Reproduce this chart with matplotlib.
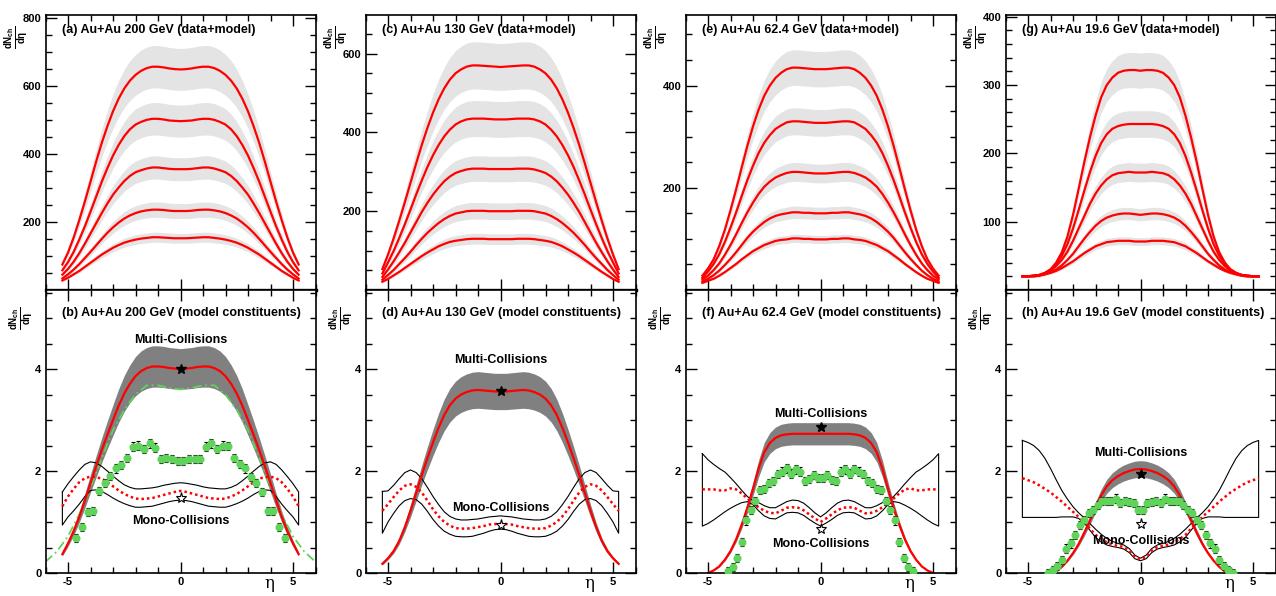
import numpy as np
import matplotlib
matplotlib.use('Agg')
import matplotlib.pyplot as plt
from matplotlib.ticker import MultipleLocator, FuncFormatter

plt.rcParams['font.family'] = ['Liberation Sans', 'DejaVu Sans']
plt.rcParams['font.weight'] = 'bold'
plt.rcParams['mathtext.fontset'] = 'custom'
plt.rcParams['mathtext.rm'] = 'Liberation Sans:bold'
plt.rcParams['mathtext.it'] = 'Liberation Sans:bold'
plt.rcParams['mathtext.bf'] = 'Liberation Sans:bold'

# eta grid for the model curves
eta = [-5.25, -5.0, -4.75, -4.5, -4.25, -4.0, -3.75, -3.5, -3.25, -3.0, -2.75, -2.5, -2.25,
       -2.0, -1.75, -1.5, -1.25, -1.0, -0.75, -0.5, -0.25, 0.0, 0.25, 0.5, 0.75, 1.0, 1.25,
       1.5, 1.75, 2.0, 2.25, 2.5, 2.75, 3.0, 3.25, 3.5, 3.75, 4.0, 4.25, 4.5, 4.75, 5.0, 5.25]

# ---- top row: dN/deta for five centralities (data+model) ----
top200 = [
    [75, 110, 154, 205, 260, 318, 377, 432, 481, 525, 562, 592, 615, 632, 644, 652, 656, 656, 654, 651, 649, 648, 649, 651, 654, 656, 656, 652, 644, 632, 615, 592, 562, 525, 481, 432, 377, 318, 260, 205, 154, 110, 75],
    [58, 82, 112, 148, 187, 230, 274, 318, 358, 395, 426, 452, 472, 486, 494, 500, 503, 503, 501, 498, 497, 496, 497, 498, 501, 503, 503, 500, 494, 486, 472, 452, 426, 395, 358, 318, 274, 230, 187, 148, 112, 82, 58],
    [45, 62, 83, 108, 136, 166, 196, 226, 254, 280, 301, 320, 335, 346, 352, 357, 360, 360, 358, 356, 355, 355, 355, 356, 358, 360, 360, 357, 352, 346, 335, 320, 301, 280, 254, 226, 196, 166, 136, 108, 83, 62, 45],
    [34, 46, 60, 76, 94, 112, 131, 150, 168, 184, 198, 210, 219, 226, 231, 234, 236, 236, 235, 233, 232, 232, 232, 233, 235, 236, 236, 234, 231, 226, 219, 210, 198, 184, 168, 150, 131, 112, 94, 76, 60, 46, 34],
    [28, 36, 46, 56, 68, 80, 92, 104, 114, 124, 132, 139, 144, 148, 151, 153, 155, 155, 154, 153, 152, 152, 152, 153, 154, 155, 155, 153, 151, 148, 144, 139, 132, 124, 114, 104, 92, 80, 68, 56, 46, 36, 28],
]
top130 = [
    [53, 90, 131, 176, 223, 272, 321, 368, 411, 450, 484, 512, 534, 550, 560, 567, 570, 570, 569, 568, 567, 566, 567, 568, 569, 570, 570, 567, 560, 550, 534, 512, 484, 450, 411, 368, 321, 272, 223, 176, 131, 90, 53],
    [42, 70, 99, 132, 167, 204, 242, 278, 312, 342, 368, 390, 407, 420, 428, 433, 435, 435, 435, 434, 433, 433, 433, 434, 435, 435, 435, 433, 428, 420, 407, 390, 368, 342, 312, 278, 242, 204, 167, 132, 99, 70, 42],
    [33, 52, 73, 96, 120, 146, 172, 198, 221, 242, 260, 276, 288, 297, 302, 306, 308, 308, 308, 307, 307, 307, 307, 307, 308, 308, 308, 306, 302, 297, 288, 276, 260, 242, 221, 198, 172, 146, 120, 96, 73, 52, 33],
    [26, 38, 51, 66, 81, 97, 114, 130, 145, 158, 170, 180, 188, 194, 197, 200, 201, 201, 201, 200, 200, 200, 200, 200, 201, 201, 201, 200, 197, 194, 188, 180, 170, 158, 145, 130, 114, 97, 81, 66, 51, 38, 26],
    [21, 28, 37, 46, 56, 66, 76, 86, 95, 103, 111, 117, 122, 125, 127, 129, 130, 130, 130, 129, 129, 129, 129, 129, 130, 130, 130, 129, 127, 125, 122, 117, 111, 103, 95, 86, 76, 66, 56, 46, 37, 28, 21],
]
top62 = [
    [28, 42, 60, 86, 118, 156, 197, 240, 282, 320, 353, 380, 400, 415, 425, 432, 435, 435, 434, 433, 432, 432, 432, 433, 434, 435, 435, 432, 425, 415, 400, 380, 353, 320, 282, 240, 197, 156, 118, 86, 60, 42, 28],
    [24, 36, 51, 70, 94, 122, 152, 184, 215, 243, 268, 288, 303, 315, 322, 328, 330, 330, 329, 328, 327, 327, 327, 328, 329, 330, 330, 328, 322, 315, 303, 288, 268, 243, 215, 184, 152, 122, 94, 70, 51, 36, 24],
    [21, 28, 39, 52, 69, 88, 109, 131, 152, 171, 188, 202, 212, 220, 225, 229, 231, 231, 230, 229, 228, 228, 228, 229, 230, 231, 231, 229, 225, 220, 212, 202, 188, 171, 152, 131, 109, 88, 69, 52, 39, 28, 21],
    [17, 22, 29, 38, 49, 61, 74, 88, 102, 114, 124, 133, 140, 145, 148, 150, 152, 152, 151, 151, 150, 150, 150, 151, 151, 152, 152, 150, 148, 145, 140, 133, 124, 114, 102, 88, 74, 61, 49, 38, 29, 22, 17],
    [14, 18, 22, 28, 35, 43, 51, 60, 68, 76, 82, 88, 92, 96, 98, 99, 101, 101, 100, 100, 99, 99, 99, 100, 100, 101, 101, 99, 98, 96, 92, 88, 82, 76, 68, 60, 51, 43, 35, 28, 22, 18, 14],
]
top19 = [
    [20, 20, 21, 22, 25, 30, 40, 55, 78, 110, 148, 187, 223, 255, 282, 300, 311, 318, 321, 322, 322, 321, 322, 322, 321, 318, 311, 300, 282, 255, 223, 187, 148, 110, 78, 55, 40, 30, 25, 22, 21, 20, 20],
    [20, 20, 21, 22, 25, 30, 38, 50, 67, 90, 117, 145, 172, 196, 215, 228, 236, 240, 242, 243, 243, 243, 243, 243, 242, 240, 236, 228, 215, 196, 172, 145, 117, 90, 67, 50, 38, 30, 25, 22, 21, 20, 20],
    [20, 20, 21, 22, 24, 28, 35, 44, 56, 72, 90, 108, 126, 141, 153, 162, 168, 171, 172, 173, 172, 172, 172, 173, 172, 171, 168, 162, 153, 141, 126, 108, 90, 72, 56, 44, 35, 28, 24, 22, 21, 20, 20],
    [20, 20, 20, 21, 23, 26, 30, 36, 44, 53, 64, 75, 85, 94, 101, 106, 109, 111, 112, 112, 111, 110, 111, 112, 112, 111, 109, 106, 101, 94, 85, 75, 64, 53, 44, 36, 30, 26, 23, 21, 20, 20, 20],
    [20, 20, 20, 21, 23, 25, 28, 32, 37, 42, 48, 54, 59, 64, 67, 70, 71, 72, 72, 72, 71, 71, 71, 72, 72, 72, 71, 70, 67, 64, 59, 54, 48, 42, 37, 32, 28, 25, 23, 21, 20, 20, 20],
]
top_relerr = [0.095, 0.105, 0.08, 0.08]

# ---- bottom row: model constituents ----
multi = [
    [0.37, 0.58, 0.82, 1.10, 1.42, 1.76, 2.09, 2.41, 2.71, 3.00, 3.28, 3.52, 3.71, 3.86, 3.96, 4.02, 4.05, 4.05, 4.04, 4.02, 4.01, 4.00, 4.01, 4.02, 4.04, 4.05, 4.05, 4.02, 3.96, 3.86, 3.71, 3.52, 3.28, 3.00, 2.71, 2.41, 2.09, 1.76, 1.42, 1.10, 0.82, 0.58, 0.37],
    [0.18, 0.29, 0.43, 0.63, 0.90, 1.22, 1.57, 1.92, 2.25, 2.56, 2.85, 3.10, 3.29, 3.42, 3.50, 3.55, 3.58, 3.59, 3.58, 3.57, 3.56, 3.56, 3.56, 3.57, 3.58, 3.59, 3.58, 3.55, 3.50, 3.42, 3.29, 3.10, 2.85, 2.56, 2.25, 1.92, 1.57, 1.22, 0.90, 0.63, 0.43, 0.29, 0.18],
    [-0.06, 0.00, 0.05, 0.13, 0.26, 0.43, 0.66, 0.95, 1.28, 1.65, 2.05, 2.37, 2.55, 2.65, 2.70, 2.72, 2.73, 2.73, 2.73, 2.73, 2.73, 2.73, 2.73, 2.73, 2.73, 2.73, 2.73, 2.72, 2.70, 2.65, 2.55, 2.37, 2.05, 1.65, 1.28, 0.95, 0.66, 0.43, 0.26, 0.13, 0.05, 0.00, -0.06],
    [-0.10, -0.10, -0.10, -0.10, -0.08, -0.03, 0.03, 0.12, 0.24, 0.39, 0.57, 0.79, 1.03, 1.29, 1.52, 1.70, 1.82, 1.90, 1.96, 2.00, 2.03, 2.04, 2.03, 2.00, 1.96, 1.90, 1.82, 1.70, 1.52, 1.29, 1.03, 0.79, 0.57, 0.39, 0.24, 0.12, 0.03, -0.03, -0.08, -0.10, -0.10, -0.10, -0.10],
]
multi_relerr = [0.10, 0.10, 0.08, 0.08]
mono = [
    [1.31, 1.50, 1.65, 1.78, 1.86, 1.89, 1.88, 1.85, 1.78, 1.70, 1.62, 1.55, 1.50, 1.46, 1.45, 1.46, 1.47, 1.50, 1.53, 1.56, 1.59, 1.61, 1.59, 1.56, 1.53, 1.50, 1.47, 1.46, 1.45, 1.46, 1.50, 1.55, 1.62, 1.70, 1.78, 1.85, 1.88, 1.89, 1.86, 1.78, 1.65, 1.50, 1.31],
    [1.22, 1.35, 1.49, 1.62, 1.71, 1.74, 1.69, 1.58, 1.42, 1.25, 1.11, 1.00, 0.93, 0.88, 0.87, 0.87, 0.88, 0.90, 0.92, 0.95, 0.96, 0.97, 0.96, 0.95, 0.92, 0.90, 0.88, 0.87, 0.87, 0.88, 0.93, 1.00, 1.11, 1.25, 1.42, 1.58, 1.69, 1.74, 1.71, 1.62, 1.49, 1.35, 1.22],
    [1.64, 1.64, 1.64, 1.62, 1.62, 1.66, 1.64, 1.56, 1.46, 1.36, 1.29, 1.22, 1.18, 1.17, 1.22, 1.28, 1.29, 1.28, 1.23, 1.15, 1.07, 1.00, 1.07, 1.15, 1.23, 1.28, 1.29, 1.28, 1.22, 1.17, 1.18, 1.22, 1.29, 1.36, 1.46, 1.56, 1.64, 1.66, 1.62, 1.62, 1.64, 1.64, 1.64],
    [1.86, 1.82, 1.78, 1.72, 1.65, 1.58, 1.49, 1.40, 1.30, 1.20, 1.10, 1.00, 0.87, 0.75, 0.67, 0.60, 0.56, 0.53, 0.51, 0.44, 0.31, 0.27, 0.31, 0.44, 0.51, 0.53, 0.56, 0.60, 0.67, 0.75, 0.87, 1.00, 1.10, 1.20, 1.30, 1.40, 1.49, 1.58, 1.65, 1.72, 1.78, 1.82, 1.86],
]
mono_hi = [
    [1.59, 1.75, 1.89, 2.02, 2.13, 2.18, 2.16, 2.09, 2.00, 1.90, 1.81, 1.73, 1.68, 1.65, 1.65, 1.66, 1.67, 1.69, 1.72, 1.74, 1.76, 1.77, 1.76, 1.74, 1.72, 1.69, 1.67, 1.66, 1.65, 1.65, 1.68, 1.73, 1.81, 1.90, 2.00, 2.09, 2.16, 2.18, 2.13, 2.02, 1.89, 1.75, 1.59],
    [1.60, 1.61, 1.72, 1.85, 1.97, 2.02, 1.97, 1.85, 1.68, 1.50, 1.34, 1.20, 1.11, 1.06, 1.04, 1.04, 1.05, 1.06, 1.08, 1.10, 1.11, 1.12, 1.11, 1.10, 1.08, 1.06, 1.05, 1.04, 1.04, 1.06, 1.11, 1.20, 1.34, 1.50, 1.68, 1.85, 1.97, 2.02, 1.97, 1.85, 1.72, 1.61, 1.60],
    [2.34, 2.22, 2.13, 2.05, 1.98, 1.87, 1.75, 1.62, 1.50, 1.42, 1.38, 1.32, 1.28, 1.28, 1.34, 1.40, 1.43, 1.42, 1.37, 1.28, 1.18, 1.10, 1.18, 1.28, 1.37, 1.42, 1.43, 1.40, 1.34, 1.28, 1.28, 1.32, 1.38, 1.42, 1.50, 1.62, 1.75, 1.87, 1.98, 2.05, 2.13, 2.22, 2.34],
    [2.60, 2.56, 2.50, 2.40, 2.25, 2.05, 1.83, 1.62, 1.45, 1.30, 1.18, 1.08, 0.97, 0.86, 0.76, 0.68, 0.62, 0.58, 0.55, 0.48, 0.35, 0.29, 0.35, 0.48, 0.55, 0.58, 0.62, 0.68, 0.76, 0.86, 0.97, 1.08, 1.18, 1.30, 1.45, 1.62, 1.83, 2.05, 2.25, 2.40, 2.50, 2.56, 2.60],
]
mono_lo = [
    [0.94, 1.10, 1.22, 1.35, 1.50, 1.62, 1.63, 1.60, 1.54, 1.47, 1.41, 1.36, 1.32, 1.29, 1.29, 1.30, 1.31, 1.34, 1.37, 1.40, 1.42, 1.43, 1.42, 1.40, 1.37, 1.34, 1.31, 1.30, 1.29, 1.29, 1.32, 1.36, 1.41, 1.47, 1.54, 1.60, 1.63, 1.62, 1.50, 1.35, 1.22, 1.10, 0.94],
    [0.78, 1.00, 1.17, 1.32, 1.42, 1.46, 1.44, 1.35, 1.21, 1.05, 0.92, 0.82, 0.76, 0.72, 0.71, 0.71, 0.72, 0.75, 0.78, 0.82, 0.85, 0.86, 0.85, 0.82, 0.78, 0.75, 0.72, 0.71, 0.71, 0.72, 0.76, 0.82, 0.92, 1.05, 1.21, 1.35, 1.44, 1.46, 1.42, 1.32, 1.17, 1.00, 0.78],
    [0.92, 0.97, 1.04, 1.12, 1.20, 1.27, 1.33, 1.38, 1.40, 1.34, 1.22, 1.12, 1.07, 1.06, 1.12, 1.18, 1.19, 1.18, 1.13, 1.05, 0.98, 0.92, 0.98, 1.05, 1.13, 1.18, 1.19, 1.18, 1.12, 1.06, 1.07, 1.12, 1.22, 1.34, 1.40, 1.38, 1.33, 1.27, 1.20, 1.12, 1.04, 0.97, 0.92],
    [1.09, 1.09, 1.09, 1.09, 1.09, 1.09, 1.09, 1.10, 1.10, 1.10, 1.07, 0.98, 0.84, 0.70, 0.61, 0.55, 0.52, 0.50, 0.47, 0.40, 0.28, 0.24, 0.28, 0.40, 0.47, 0.50, 0.52, 0.55, 0.61, 0.70, 0.84, 0.98, 1.07, 1.10, 1.10, 1.10, 1.09, 1.09, 1.09, 1.09, 1.09, 1.09, 1.09],
]
star_multi = [4.00, 3.56, 2.87, 1.94]
star_mono = [1.48, 0.94, 0.86, 0.97]
multi_label_y = [4.57, 4.18, 3.12, 2.35]
mono_label_y = [1.02, 1.27, 0.56, 0.62]

# green dash-dot curve (200 GeV only)
green_eta = [-6.0, -5.5, -5.0, -4.5, -4.0, -3.5, -3.0, -2.5, -2.0, -1.5, -1.0, -0.5, 0.0,
             0.5, 1.0, 1.5, 2.0, 2.5, 3.0, 3.5, 4.0, 4.5, 5.0, 5.5, 6.0]
green_line = [0.22, 0.42, 0.72, 1.15, 1.68, 2.25, 2.80, 3.20, 3.50, 3.68, 3.68, 3.63, 3.60,
              3.63, 3.68, 3.68, 3.50, 3.20, 2.80, 2.25, 1.68, 1.15, 0.72, 0.42, 0.22]

# green data points
pts200_eta = [-4.625, -4.375, -4.125, -3.875, -3.625, -3.375, -3.125, -2.875, -2.625, -2.375,
              -2.125, -1.875, -1.625, -1.375, -1.125, -0.875, -0.625, -0.375, -0.125,
              0.125, 0.375, 0.625, 0.875, 1.125, 1.375, 1.625, 1.875, 2.125, 2.375,
              2.625, 2.875, 3.125, 3.375, 3.625, 3.875, 4.125, 4.375, 4.625]
pts200 = [0.68, 0.90, 1.20, 1.22, 1.61, 1.77, 1.90, 2.05, 2.12, 2.26, 2.48, 2.50, 2.44, 2.54, 2.46,
          2.24, 2.25, 2.24, 2.20, 2.20, 2.24, 2.24, 2.24, 2.48, 2.54, 2.44, 2.50, 2.49, 2.25,
          2.14, 2.05, 1.89, 1.77, 1.59, 1.22, 1.22, 0.90, 0.68]
pts_eta = [-4.1, -3.9, -3.7, -3.5, -3.3, -3.1, -2.9, -2.7, -2.5, -2.3, -2.1, -1.9, -1.7, -1.5,
           -1.3, -1.1, -0.9, -0.7, -0.5, -0.3, -0.1, 0.1, 0.3, 0.5, 0.7, 0.9, 1.1, 1.3, 1.5,
           1.7, 1.9, 2.1, 2.3, 2.5, 2.7, 2.9, 3.1, 3.3, 3.5, 3.7, 3.9, 4.1]
pts62 = [0.03, 0.12, 0.30, 0.61, 1.03, 1.24, 1.42, 1.63, 1.64, 1.77, 1.81, 1.94, 1.99, 2.05,
         1.95, 2.03, 1.99, 1.81, 1.84, 1.92, 1.87, 1.87, 1.92, 1.82, 1.81, 1.99, 2.03, 1.95,
         2.04, 1.99, 1.94, 1.81, 1.77, 1.64, 1.63, 1.42, 1.24, 1.03, 0.61, 0.30, 0.12, 0.03]
pts19 = [0.00, 0.06, 0.14, 0.25, 0.48, 0.58, 0.75, 0.94, 1.04, 1.17, 1.24, 1.33, 1.42, 1.42,
         1.42, 1.46, 1.38, 1.42, 1.40, 1.38, 1.24, 1.24, 1.38, 1.40, 1.42, 1.38, 1.46, 1.42,
         1.42, 1.42, 1.33, 1.24, 1.17, 1.04, 0.94, 0.75, 0.58, 0.48, 0.25, 0.14, 0.06, 0.00]
pts_err = 0.08

top_titles = ['(a) Au+Au 200 GeV (data+model)', '(c) Au+Au 130 GeV (data+model)',
              '(e) Au+Au 62.4 GeV (data+model)', '(g) Au+Au 19.6 GeV (data+model)']
bot_titles = ['(b) Au+Au 200 GeV (model constituents)', '(d) Au+Au 130 GeV (model constituents)',
              '(f) Au+Au 62.4 GeV (model constituents)', '(h) Au+Au 19.6 GeV (model constituents)']
top_ymax = [808, 698, 538, 402.6]
top_major = [200, 200, 200, 100]
top_minor = [50, 50, 50, 20]

RED = '#ff0000'
GREEN = '#5fd35a'
LIGHT = '#e4e4e4'
DARK = '#808080'

W, H = 1276, 596
fig = plt.figure(figsize=(W / 100, H / 100), dpi=100)
lefts = [45.5, 365.5, 685.5, 1005.5]


def style(ax):
    ax.set_xlim(-6, 6)
    ax.xaxis.set_major_locator(MultipleLocator(5))
    ax.xaxis.set_minor_locator(MultipleLocator(1))
    ax.tick_params(which='both', direction='in', top=True, right=True, width=1.0,
                   labelsize=8, pad=3)
    ax.tick_params(which='major', length=8)
    ax.tick_params(which='minor', length=4)
    for s in ax.spines.values():
        s.set_linewidth(1.2)


no_zero = FuncFormatter(lambda v, p: '' if abs(v) < 1e-9 else '%d' % v)
frac = r'$\frac{dN_{ch}}{d\eta}$'
eta_a = np.array(eta)

for i in range(4):
    x0 = lefts[i]
    # top panel
    ax = fig.add_axes([x0 / W, (H - 290) / H, 270 / W, 275 / H])
    style(ax)
    curves = [top200, top130, top62, top19][i]
    for c in curves:
        c = np.array(c, float)
        ax.fill_between(eta_a, c * (1 - top_relerr[i]), c * (1 + top_relerr[i]),
                        color=LIGHT, lw=0)
    for c in curves:
        ax.plot(eta_a, c, color=RED, lw=1.6)
    ax.set_ylim(0, top_ymax[i])
    ax.yaxis.set_major_locator(MultipleLocator(top_major[i]))
    ax.yaxis.set_minor_locator(MultipleLocator(top_minor[i]))
    ax.yaxis.set_major_formatter(no_zero)
    ax.tick_params(labelbottom=False)
    ax.spines['bottom'].set_linewidth(2.4)
    ax.text(0.061, 0.945, top_titles[i], transform=ax.transAxes, fontsize=9,
            ha='left', va='center')
    fig.text((x0 - 29) / W, 1 - 37 / H, frac, rotation=90, fontsize=10,
             ha='center', va='center')

    # bottom panel
    ax = fig.add_axes([x0 / W, (H - 573) / H, 270 / W, 283 / H])
    style(ax)
    m = np.array(multi[i], float)
    ax.fill_between(eta_a, m * (1 - multi_relerr[i]), m * (1 + multi_relerr[i]),
                    color=DARK, lw=0)
    if i == 0:
        ax.plot(green_eta, green_line, color=GREEN, lw=1.3, ls=(0, (5, 2, 1, 2)))
    # mono-collision band outline
    bx = list(eta) + eta[::-1] + [eta[0]]
    by = mono_hi[i] + mono_lo[i][::-1] + [mono_hi[i][0]]
    ax.plot(bx, by, color='black', lw=0.8)
    ax.plot(eta, mono[i], color=RED, lw=1.8, ls=(0, (1, 1.2)))
    ax.plot(eta_a, m, color=RED, lw=1.6)
    pts = [pts200, None, pts62, pts19][i]
    if pts is not None:
        px = pts200_eta if i == 0 else pts_eta
        ax.errorbar(px, pts, yerr=pts_err, fmt='o', ms=4.8, color=GREEN, mec=GREEN,
                    ecolor='black', elinewidth=0.8, capsize=1.3, capthick=0.8, zorder=5)
    ax.plot([0], [star_multi[i]], marker='*', ms=7, color='black', ls='none', zorder=6)
    ax.plot([0], [star_mono[i]], marker='*', ms=8, mfc='white', mec='black', mew=0.8,
            ls='none', zorder=6)
    ax.text(0, multi_label_y[i], 'Multi-Collisions', fontsize=9, ha='center', va='center')
    ax.text(0, mono_label_y[i], 'Mono-Collisions', fontsize=9, ha='center', va='center')
    ax.set_ylim(0, 5.55)
    ax.yaxis.set_major_locator(MultipleLocator(2))
    ax.yaxis.set_minor_locator(MultipleLocator(0.5))
    ax.set_xticks([-5, 0, 5])
    ax.set_xticklabels(['-5', '0', '5'])
    ax.text(0.061, 0.919, bot_titles[i], transform=ax.transAxes, fontsize=9,
            ha='left', va='center')
    ax.text(0.828, -0.038, '\u03b7', transform=ax.transAxes, fontsize=12,
            family='DejaVu Serif', fontweight='normal', ha='center', va='center')
    fig.text((x0 - 24) / W, 1 - 318 / H, frac, rotation=90, fontsize=10,
             ha='center', va='center')

fig.savefig('out.png', dpi=100)
